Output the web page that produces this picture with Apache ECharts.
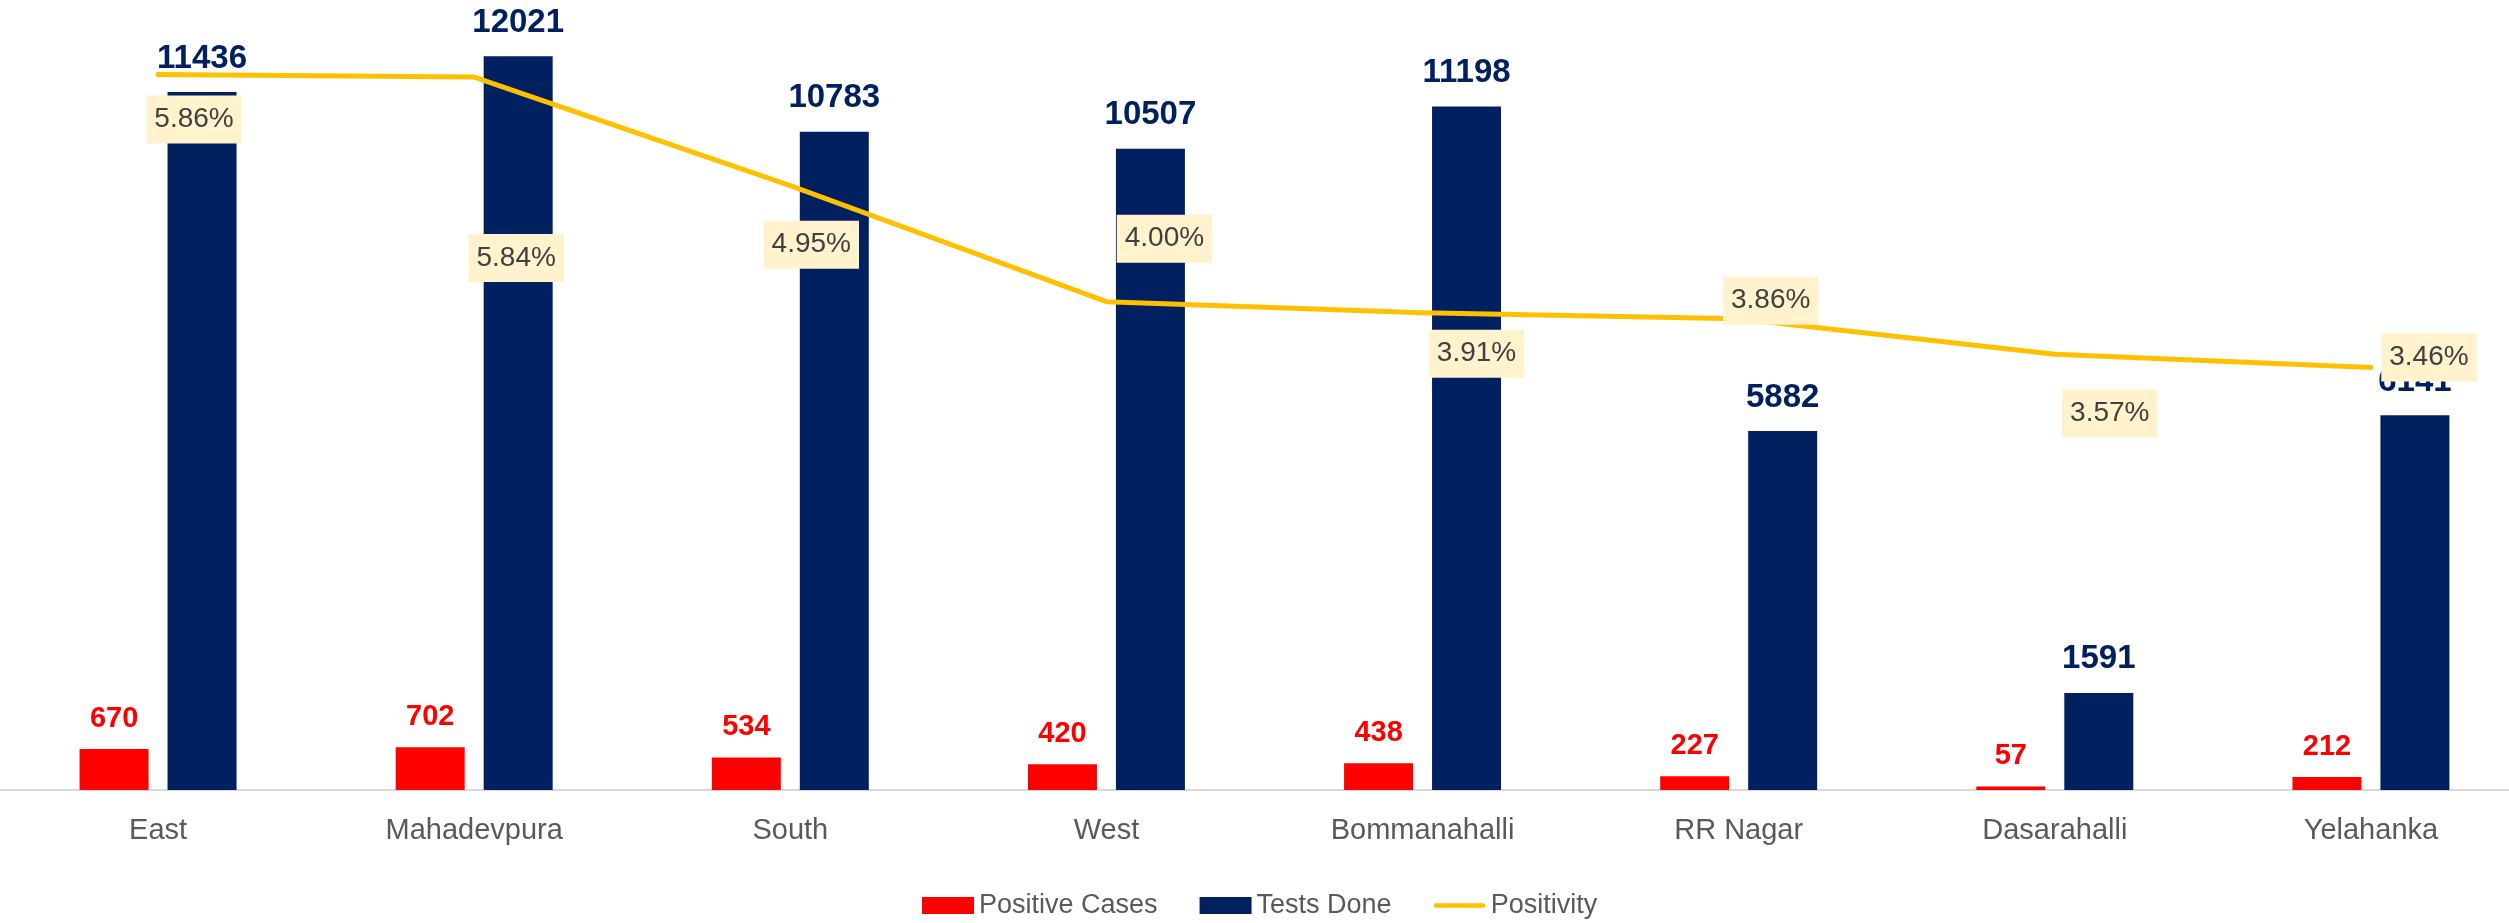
<!DOCTYPE html>
<html>
<head>
<meta charset="utf-8">
<script src="https://cdn.jsdelivr.net/npm/echarts@6/dist/echarts.min.js"></script>
<style>
  html, body { margin: 0; padding: 0; background: #fff; overflow: hidden; }
  /* the plot runs ~20px past the right edge in the original */
  #main { width: 2529px; height: 923px; }
</style>
</head>
<body>
<div id="main"></div>
<script>
var categories = ['East', 'Mahadevpura', 'South', 'West', 'Bommanahalli', 'RR Nagar', 'Dasarahalli', 'Yelahanka'];
var positiveCases = [670, 702, 534, 420, 438, 227, 57, 212];
var testsDone = [11436, 12021, 10783, 10507, 11198, 5882, 1591, 6141];
var positivity = [5.86, 5.84, 4.95, 4.00, 3.91, 3.86, 3.57, 3.46];

// where each positivity label sits relative to its point (px)
var labelOffsets = [[36, 45], [42, 181], [21, 59], [58, -63], [54, 41], [32, -18], [55, 59], [58, -10]];

var font = 'Liberation Sans';
var myChart = echarts.init(document.getElementById('main'));

var option = {
  animation: false,
  textStyle: { fontFamily: font },
  grid: { left: 0, right: 0, top: 27, bottom: 133 },
  legend: {
    left: 917,
    top: 887,
    itemWidth: 52,
    itemHeight: 17,
    itemGap: 42,
    textStyle: { fontSize: 27, color: '#595959', fontFamily: font },
    data: [
      { name: 'Positive Cases', icon: 'rect' },
      { name: 'Tests Done', icon: 'rect' },
      { name: 'Positivity', icon: 'path://M2,0 H53 A2.5,2.5 0 0 1 53,5 H2 A2.5,2.5 0 0 1 2,0 Z' }
    ]
  },
  xAxis: {
    type: 'category',
    data: categories,
    axisLine: { lineStyle: { color: '#d9d9d9', width: 2 } },
    axisTick: { show: false },
    axisLabel: { color: '#595959', fontSize: 29, margin: 26, fontFamily: font }
  },
  yAxis: [
    { type: 'value', min: 0, max: 12500, show: false, splitLine: { show: false } },
    { type: 'value', min: 0, max: 6.25, show: false, splitLine: { show: false } }
  ],
  series: [
    {
      name: 'Positive Cases',
      type: 'bar',
      data: positiveCases,
      barWidth: 69,
      barGap: '27.5%',
      itemStyle: { color: '#ff0000' },
      label: {
        show: true, position: 'top', distance: 16,
        color: '#ff0000', fontWeight: 'bold', fontSize: 29, fontFamily: font
      }
    },
    {
      name: 'Tests Done',
      type: 'bar',
      data: testsDone,
      barWidth: 69,
      itemStyle: { color: '#002060' },
      label: {
        show: true, position: 'top', distance: 17,
        color: '#002060', fontWeight: 'bold', fontSize: 33, fontFamily: font
      }
    },
    {
      name: 'Positivity',
      type: 'line',
      yAxisIndex: 1,
      data: positivity.map(function (v, i) {
        return { value: v, label: { offset: labelOffsets[i] } };
      }),
      symbol: 'circle',
      symbolSize: 2,
      itemStyle: { color: '#ffc000' },
      lineStyle: { color: '#ffc000', width: 5, cap: 'round', join: 'round' },
      z: 5,
      label: {
        show: true,
        position: 'inside',
        formatter: function (p) { return p.value.toFixed(2) + '%'; },
        color: '#404040',
        fontSize: 28,
        fontFamily: font,
        backgroundColor: '#fff2cc',
        padding: [10, 8],
        lineHeight: 28
      }
    }
  ]
};

myChart.setOption(option);
</script>
</body>
</html>
